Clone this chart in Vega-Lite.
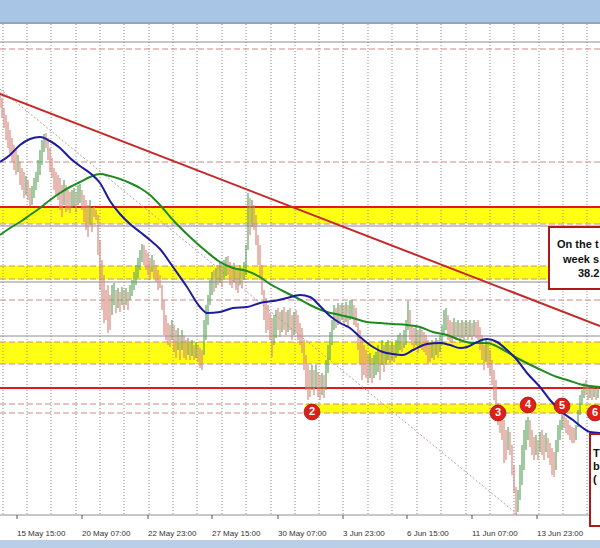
{
  "$schema": "https://vega.github.io/schema/vega-lite/v6.json",
  "width": 600,
  "height": 548,
  "autosize": "none",
  "padding": 0,
  "background": "#ffffff",
  "config": {"view": {"stroke": null}},
  "datasets": {
    "chrome": [
      {"t": 0, "t2": 600, "p": 0, "p2": 22, "part": "top"},
      {"t": 0, "t2": 600, "p": 22, "p2": 24, "part": "rim"},
      {"t": 0, "t2": 600, "p": 540, "p2": 548, "part": "foot"}
    ],
    "bands": [
      {"t": 0, "t2": 600, "p": 208, "p2": 224},
      {"t": 0, "t2": 600, "p": 266, "p2": 279},
      {"t": 0, "t2": 600, "p": 342, "p2": 364},
      {"t": 305, "t2": 600, "p": 404, "p2": 413}
    ],
    "grid": [
      {"t": 3, "p": 24, "p2": 515}, {"t": 27, "p": 24, "p2": 515}, {"t": 51, "p": 24, "p2": 515}, {"t": 76, "p": 24, "p2": 515}, {"t": 100, "p": 24, "p2": 515}, {"t": 124, "p": 24, "p2": 515}, {"t": 149, "p": 24, "p2": 515}, {"t": 173, "p": 24, "p2": 515}, {"t": 197, "p": 24, "p2": 515}, {"t": 222, "p": 24, "p2": 515}, {"t": 246, "p": 24, "p2": 515}, {"t": 271, "p": 24, "p2": 515}, {"t": 295, "p": 24, "p2": 515}, {"t": 319, "p": 24, "p2": 515}, {"t": 343, "p": 24, "p2": 515}, {"t": 368, "p": 24, "p2": 515}, {"t": 392, "p": 24, "p2": 515}, {"t": 417, "p": 24, "p2": 515}, {"t": 441, "p": 24, "p2": 515}, {"t": 466, "p": 24, "p2": 515}, {"t": 490, "p": 24, "p2": 515}, {"t": 514, "p": 24, "p2": 515}, {"t": 539, "p": 24, "p2": 515}, {"t": 563, "p": 24, "p2": 515}, {"t": 587, "p": 24, "p2": 515}
    ],
    "levels": [
      {"t": 0, "t2": 600, "p": 42, "k": "gray"}, {"t": 0, "t2": 600, "p": 49, "k": "dash"}, {"t": 0, "t2": 600, "p": 162, "k": "dash"}, {"t": 0, "t2": 600, "p": 207, "k": "red"}, {"t": 0, "t2": 600, "p": 224, "k": "dash"}, {"t": 0, "t2": 600, "p": 226, "k": "gray"}, {"t": 0, "t2": 600, "p": 266, "k": "dash"}, {"t": 0, "t2": 600, "p": 279, "k": "dash"}, {"t": 0, "t2": 600, "p": 282, "k": "gray"}, {"t": 0, "t2": 600, "p": 300, "k": "dash"}, {"t": 0, "t2": 600, "p": 336, "k": "gray"}, {"t": 0, "t2": 600, "p": 342, "k": "dash"}, {"t": 0, "t2": 600, "p": 364, "k": "dash"}, {"t": 0, "t2": 600, "p": 388, "k": "red"}, {"t": 0, "t2": 600, "p": 404, "k": "dash"}, {"t": 0, "t2": 600, "p": 413, "k": "dash"}, {"t": 0, "t2": 600, "p": 515, "k": "gray"}
    ],
    "trend": [
      {"t": 0, "p": 94, "k": "trend"}, {"t": 600, "p": 326, "k": "trend"},
      {"t": 0, "p": 89, "k": "channel"}, {"t": 517, "p": 514, "k": "channel"}
    ],
    "candles": [
      {"t":0,"p":92,"p2":108,"d":"dn"},{"t":2,"p":98,"p2":118,"d":"dn"},{"t":4,"p":108,"p2":128,"d":"dn"},{"t":6,"p":115,"p2":140,"d":"dn"},{"t":8,"p":122,"p2":148,"d":"dn"},{"t":10,"p":130,"p2":155,"d":"dn"},{"t":12,"p":138,"p2":162,"d":"dn"},{"t":14,"p":145,"p2":170,"d":"dn"},{"t":16,"p":150,"p2":175,"d":"dn"},{"t":18,"p":155,"p2":172,"d":"up"},
      {"t":20,"p":162,"p2":185,"d":"dn"},{"t":22,"p":168,"p2":190,"d":"dn"},{"t":24,"p":172,"p2":198,"d":"dn"},{"t":26,"p":176,"p2":195,"d":"up"},{"t":28,"p":180,"p2":200,"d":"dn"},{"t":30,"p":188,"p2":206,"d":"dn"},{"t":32,"p":186,"p2":205,"d":"up"},{"t":34,"p":178,"p2":198,"d":"up"},{"t":36,"p":172,"p2":190,"d":"up"},{"t":38,"p":160,"p2":182,"d":"up"},
      {"t":40,"p":150,"p2":175,"d":"up"},{"t":42,"p":140,"p2":165,"d":"up"},{"t":44,"p":134,"p2":152,"d":"up"},{"t":46,"p":133,"p2":148,"d":"dn"},{"t":48,"p":138,"p2":160,"d":"dn"},{"t":50,"p":148,"p2":172,"d":"dn"},{"t":52,"p":158,"p2":178,"d":"dn"},{"t":54,"p":168,"p2":190,"d":"dn"},{"t":56,"p":172,"p2":195,"d":"dn"},{"t":58,"p":175,"p2":200,"d":"dn"},
      {"t":60,"p":178,"p2":210,"d":"dn"},{"t":62,"p":185,"p2":217,"d":"dn"},{"t":64,"p":180,"p2":205,"d":"up"},{"t":66,"p":185,"p2":212,"d":"dn"},{"t":68,"p":190,"p2":210,"d":"dn"},{"t":70,"p":192,"p2":213,"d":"dn"},{"t":72,"p":190,"p2":208,"d":"up"},{"t":74,"p":188,"p2":206,"d":"up"},{"t":76,"p":192,"p2":212,"d":"dn"},{"t":78,"p":185,"p2":205,"d":"up"},
      {"t":80,"p":184,"p2":203,"d":"up"},{"t":82,"p":190,"p2":210,"d":"dn"},{"t":84,"p":195,"p2":222,"d":"dn"},{"t":86,"p":200,"p2":230,"d":"dn"},{"t":88,"p":205,"p2":237,"d":"dn"},{"t":90,"p":200,"p2":225,"d":"up"},{"t":92,"p":208,"p2":232,"d":"dn"},{"t":94,"p":207,"p2":217,"d":"dn"},{"t":96,"p":210,"p2":220,"d":"dn"},{"t":98,"p":215,"p2":255,"d":"dn"},
      {"t":100,"p":240,"p2":290,"d":"dn"},{"t":102,"p":260,"p2":310,"d":"dn"},{"t":104,"p":275,"p2":323,"d":"dn"},{"t":106,"p":290,"p2":320,"d":"dn"},{"t":108,"p":285,"p2":333,"d":"dn"},{"t":110,"p":295,"p2":330,"d":"dn"},{"t":112,"p":285,"p2":315,"d":"up"},{"t":114,"p":283,"p2":305,"d":"up"},{"t":116,"p":290,"p2":313,"d":"dn"},{"t":118,"p":288,"p2":308,"d":"up"},
      {"t":120,"p":292,"p2":312,"d":"dn"},{"t":122,"p":287,"p2":305,"d":"up"},{"t":124,"p":290,"p2":310,"d":"dn"},{"t":126,"p":288,"p2":305,"d":"up"},{"t":128,"p":292,"p2":310,"d":"dn"},{"t":130,"p":285,"p2":300,"d":"up"},{"t":132,"p":280,"p2":296,"d":"up"},{"t":134,"p":272,"p2":290,"d":"up"},{"t":136,"p":265,"p2":285,"d":"up"},{"t":138,"p":258,"p2":278,"d":"up"},
      {"t":140,"p":250,"p2":270,"d":"up"},{"t":142,"p":244,"p2":262,"d":"up"},{"t":144,"p":245,"p2":265,"d":"dn"},{"t":146,"p":250,"p2":270,"d":"dn"},{"t":148,"p":253,"p2":275,"d":"dn"},{"t":150,"p":258,"p2":280,"d":"dn"},{"t":152,"p":255,"p2":272,"d":"up"},{"t":154,"p":260,"p2":278,"d":"dn"},{"t":156,"p":265,"p2":282,"d":"dn"},{"t":158,"p":270,"p2":290,"d":"dn"},
      {"t":160,"p":275,"p2":288,"d":"dn"},{"t":162,"p":285,"p2":310,"d":"dn"},{"t":164,"p":300,"p2":335,"d":"dn"},{"t":166,"p":315,"p2":340,"d":"dn"},{"t":168,"p":323,"p2":345,"d":"dn"},{"t":170,"p":325,"p2":347,"d":"dn"},{"t":172,"p":320,"p2":340,"d":"up"},{"t":174,"p":325,"p2":352,"d":"dn"},{"t":176,"p":330,"p2":358,"d":"dn"},{"t":178,"p":328,"p2":350,"d":"up"},
      {"t":180,"p":335,"p2":360,"d":"dn"},{"t":182,"p":330,"p2":350,"d":"up"},{"t":184,"p":335,"p2":358,"d":"dn"},{"t":186,"p":340,"p2":360,"d":"dn"},{"t":188,"p":338,"p2":355,"d":"up"},{"t":190,"p":342,"p2":360,"d":"dn"},{"t":192,"p":340,"p2":356,"d":"up"},{"t":194,"p":345,"p2":360,"d":"dn"},{"t":196,"p":342,"p2":358,"d":"up"},{"t":198,"p":345,"p2":362,"d":"dn"},
      {"t":200,"p":348,"p2":368,"d":"dn"},{"t":202,"p":350,"p2":370,"d":"dn"},{"t":204,"p":320,"p2":355,"d":"up"},{"t":206,"p":305,"p2":340,"d":"up"},{"t":208,"p":295,"p2":325,"d":"up"},{"t":210,"p":280,"p2":305,"d":"up"},{"t":212,"p":272,"p2":295,"d":"up"},{"t":214,"p":270,"p2":292,"d":"dn"},{"t":216,"p":268,"p2":288,"d":"up"},{"t":218,"p":265,"p2":285,"d":"dn"},
      {"t":220,"p":262,"p2":283,"d":"up"},{"t":222,"p":265,"p2":287,"d":"dn"},{"t":224,"p":260,"p2":280,"d":"up"},{"t":226,"p":257,"p2":276,"d":"up"},{"t":228,"p":256,"p2":275,"d":"dn"},{"t":230,"p":262,"p2":285,"d":"dn"},{"t":232,"p":265,"p2":288,"d":"dn"},{"t":234,"p":263,"p2":282,"d":"up"},{"t":236,"p":268,"p2":290,"d":"dn"},{"t":238,"p":270,"p2":293,"d":"dn"},
      {"t":240,"p":265,"p2":285,"d":"up"},{"t":242,"p":268,"p2":288,"d":"dn"},{"t":244,"p":262,"p2":280,"d":"up"},{"t":246,"p":245,"p2":275,"d":"up"},{"t":248,"p":193,"p2":250,"d":"up"},{"t":250,"p":198,"p2":235,"d":"dn"},{"t":252,"p":200,"p2":227,"d":"up"},{"t":254,"p":205,"p2":230,"d":"dn"},{"t":256,"p":215,"p2":245,"d":"dn"},{"t":258,"p":235,"p2":265,"d":"dn"},
      {"t":260,"p":245,"p2":280,"d":"dn"},{"t":262,"p":265,"p2":295,"d":"dn"},{"t":264,"p":290,"p2":320,"d":"dn"},{"t":266,"p":298,"p2":333,"d":"dn"},{"t":268,"p":305,"p2":330,"d":"dn"},{"t":270,"p":313,"p2":340,"d":"dn"},{"t":272,"p":318,"p2":357,"d":"dn"},{"t":274,"p":315,"p2":345,"d":"up"},{"t":276,"p":310,"p2":338,"d":"up"},{"t":278,"p":308,"p2":330,"d":"dn"},
      {"t":280,"p":312,"p2":337,"d":"dn"},{"t":282,"p":310,"p2":332,"d":"up"},{"t":284,"p":307,"p2":330,"d":"dn"},{"t":286,"p":312,"p2":335,"d":"dn"},{"t":288,"p":310,"p2":332,"d":"up"},{"t":290,"p":308,"p2":330,"d":"dn"},{"t":292,"p":315,"p2":340,"d":"dn"},{"t":294,"p":312,"p2":335,"d":"up"},{"t":296,"p":310,"p2":333,"d":"dn"},{"t":298,"p":315,"p2":340,"d":"dn"},
      {"t":300,"p":323,"p2":345,"d":"dn"},{"t":302,"p":328,"p2":353,"d":"dn"},{"t":304,"p":340,"p2":370,"d":"dn"},{"t":306,"p":355,"p2":390,"d":"dn"},{"t":308,"p":365,"p2":400,"d":"dn"},{"t":310,"p":370,"p2":397,"d":"dn"},{"t":312,"p":365,"p2":390,"d":"up"},{"t":314,"p":370,"p2":395,"d":"dn"},{"t":316,"p":365,"p2":388,"d":"up"},{"t":318,"p":372,"p2":397,"d":"dn"},
      {"t":320,"p":375,"p2":400,"d":"dn"},{"t":322,"p":373,"p2":395,"d":"up"},{"t":324,"p":375,"p2":398,"d":"dn"},{"t":326,"p":360,"p2":390,"d":"up"},{"t":328,"p":345,"p2":373,"d":"up"},{"t":330,"p":332,"p2":360,"d":"up"},{"t":332,"p":320,"p2":345,"d":"up"},{"t":334,"p":305,"p2":330,"d":"up"},{"t":336,"p":308,"p2":328,"d":"dn"},{"t":338,"p":303,"p2":325,"d":"up"},
      {"t":340,"p":305,"p2":322,"d":"dn"},{"t":342,"p":303,"p2":320,"d":"up"},{"t":344,"p":305,"p2":325,"d":"dn"},{"t":346,"p":302,"p2":322,"d":"up"},{"t":348,"p":305,"p2":327,"d":"dn"},{"t":350,"p":300,"p2":320,"d":"up"},{"t":352,"p":300,"p2":318,"d":"up"},{"t":354,"p":305,"p2":325,"d":"dn"},{"t":356,"p":308,"p2":327,"d":"dn"},{"t":358,"p":323,"p2":350,"d":"dn"},
      {"t":360,"p":330,"p2":365,"d":"dn"},{"t":362,"p":340,"p2":380,"d":"dn"},{"t":364,"p":345,"p2":375,"d":"dn"},{"t":366,"p":350,"p2":378,"d":"dn"},{"t":368,"p":355,"p2":383,"d":"dn"},{"t":370,"p":353,"p2":378,"d":"up"},{"t":372,"p":358,"p2":383,"d":"dn"},{"t":374,"p":355,"p2":378,"d":"up"},{"t":376,"p":352,"p2":375,"d":"up"},{"t":378,"p":345,"p2":372,"d":"up"},
      {"t":380,"p":350,"p2":380,"d":"dn"},{"t":382,"p":340,"p2":365,"d":"up"},{"t":384,"p":345,"p2":372,"d":"dn"},{"t":386,"p":342,"p2":365,"d":"up"},{"t":388,"p":340,"p2":360,"d":"up"},{"t":390,"p":345,"p2":363,"d":"dn"},{"t":392,"p":342,"p2":360,"d":"up"},{"t":394,"p":345,"p2":362,"d":"dn"},{"t":396,"p":340,"p2":358,"d":"up"},{"t":398,"p":335,"p2":353,"d":"up"},
      {"t":400,"p":333,"p2":350,"d":"up"},{"t":402,"p":335,"p2":352,"d":"dn"},{"t":404,"p":330,"p2":348,"d":"up"},{"t":406,"p":320,"p2":345,"d":"up"},{"t":408,"p":301,"p2":330,"d":"up"},{"t":410,"p":310,"p2":340,"d":"dn"},{"t":412,"p":325,"p2":345,"d":"dn"},{"t":414,"p":328,"p2":350,"d":"dn"},{"t":416,"p":327,"p2":345,"d":"up"},{"t":418,"p":330,"p2":353,"d":"dn"},
      {"t":420,"p":328,"p2":348,"d":"up"},{"t":422,"p":330,"p2":350,"d":"dn"},{"t":424,"p":332,"p2":352,"d":"dn"},{"t":426,"p":335,"p2":355,"d":"dn"},{"t":428,"p":340,"p2":363,"d":"dn"},{"t":430,"p":342,"p2":362,"d":"dn"},{"t":432,"p":340,"p2":358,"d":"up"},{"t":434,"p":342,"p2":360,"d":"dn"},{"t":436,"p":338,"p2":355,"d":"up"},{"t":438,"p":340,"p2":358,"d":"dn"},
      {"t":440,"p":335,"p2":352,"d":"up"},{"t":442,"p":325,"p2":345,"d":"up"},{"t":444,"p":310,"p2":335,"d":"up"},{"t":446,"p":308,"p2":330,"d":"up"},{"t":448,"p":315,"p2":340,"d":"dn"},{"t":450,"p":320,"p2":342,"d":"dn"},{"t":452,"p":322,"p2":343,"d":"dn"},{"t":454,"p":318,"p2":338,"d":"up"},{"t":456,"p":322,"p2":340,"d":"dn"},{"t":458,"p":320,"p2":337,"d":"up"},
      {"t":460,"p":323,"p2":343,"d":"dn"},{"t":462,"p":320,"p2":338,"d":"up"},{"t":464,"p":322,"p2":340,"d":"dn"},{"t":466,"p":320,"p2":336,"d":"up"},{"t":468,"p":322,"p2":340,"d":"dn"},{"t":470,"p":320,"p2":337,"d":"up"},{"t":472,"p":323,"p2":340,"d":"dn"},{"t":474,"p":320,"p2":336,"d":"up"},{"t":476,"p":322,"p2":338,"d":"dn"},{"t":478,"p":320,"p2":340,"d":"dn"},
      {"t":480,"p":327,"p2":350,"d":"dn"},{"t":482,"p":335,"p2":360,"d":"dn"},{"t":484,"p":345,"p2":370,"d":"dn"},{"t":486,"p":340,"p2":362,"d":"up"},{"t":488,"p":343,"p2":368,"d":"dn"},{"t":490,"p":350,"p2":375,"d":"dn"},{"t":492,"p":360,"p2":385,"d":"dn"},{"t":494,"p":370,"p2":400,"d":"dn"},{"t":496,"p":380,"p2":407,"d":"dn"},{"t":498,"p":403,"p2":425,"d":"dn"},
      {"t":500,"p":405,"p2":433,"d":"dn"},{"t":502,"p":415,"p2":440,"d":"dn"},{"t":504,"p":420,"p2":463,"d":"dn"},{"t":506,"p":430,"p2":460,"d":"dn"},{"t":508,"p":427,"p2":450,"d":"up"},{"t":510,"p":432,"p2":455,"d":"dn"},{"t":512,"p":445,"p2":475,"d":"dn"},{"t":514,"p":465,"p2":493,"d":"dn"},{"t":516,"p":487,"p2":515,"d":"dn"},{"t":518,"p":490,"p2":512,"d":"up"},
      {"t":520,"p":465,"p2":500,"d":"up"},{"t":522,"p":445,"p2":485,"d":"up"},{"t":524,"p":430,"p2":470,"d":"up"},{"t":526,"p":420,"p2":450,"d":"up"},{"t":528,"p":417,"p2":440,"d":"up"},{"t":530,"p":420,"p2":447,"d":"dn"},{"t":532,"p":430,"p2":455,"d":"dn"},{"t":534,"p":437,"p2":460,"d":"dn"},{"t":536,"p":435,"p2":455,"d":"up"},{"t":538,"p":440,"p2":460,"d":"dn"},
      {"t":540,"p":432,"p2":452,"d":"up"},{"t":542,"p":430,"p2":455,"d":"dn"},{"t":544,"p":435,"p2":460,"d":"dn"},{"t":546,"p":433,"p2":452,"d":"up"},{"t":548,"p":438,"p2":458,"d":"dn"},{"t":550,"p":443,"p2":465,"d":"dn"},{"t":552,"p":448,"p2":475,"d":"dn"},{"t":554,"p":452,"p2":477,"d":"dn"},{"t":556,"p":440,"p2":470,"d":"up"},{"t":558,"p":425,"p2":452,"d":"up"},
      {"t":560,"p":420,"p2":440,"d":"up"},{"t":562,"p":415,"p2":430,"d":"up"},{"t":564,"p":413,"p2":428,"d":"dn"},{"t":566,"p":418,"p2":433,"d":"dn"},{"t":568,"p":420,"p2":435,"d":"dn"},{"t":570,"p":425,"p2":440,"d":"dn"},{"t":572,"p":427,"p2":443,"d":"dn"},{"t":574,"p":428,"p2":443,"d":"dn"},{"t":576,"p":425,"p2":440,"d":"up"},{"t":578,"p":410,"p2":427,"d":"up"},
      {"t":580,"p":395,"p2":415,"d":"up"},{"t":582,"p":390,"p2":405,"d":"up"},{"t":584,"p":383,"p2":398,"d":"up"},{"t":586,"p":380,"p2":395,"d":"dn"},{"t":588,"p":385,"p2":400,"d":"dn"},{"t":590,"p":387,"p2":398,"d":"up"},{"t":592,"p":388,"p2":400,"d":"dn"},{"t":594,"p":387,"p2":397,"d":"up"},{"t":596,"p":389,"p2":400,"d":"dn"},{"t":598,"p":388,"p2":398,"d":"up"}
    ],
    "ma": [
      {"t":0,"p":162,"s":"fast"},{"t":10,"p":155,"s":"fast"},{"t":20,"p":145,"s":"fast"},{"t":30,"p":139,"s":"fast"},{"t":40,"p":137,"s":"fast"},{"t":50,"p":141,"s":"fast"},{"t":60,"p":148,"s":"fast"},{"t":70,"p":158,"s":"fast"},{"t":80,"p":166,"s":"fast"},{"t":90,"p":173,"s":"fast"},{"t":100,"p":183,"s":"fast"},{"t":110,"p":201,"s":"fast"},{"t":120,"p":214,"s":"fast"},{"t":130,"p":224,"s":"fast"},{"t":140,"p":232,"s":"fast"},{"t":150,"p":240,"s":"fast"},{"t":160,"p":249,"s":"fast"},{"t":173,"p":267,"s":"fast"},{"t":187,"p":287,"s":"fast"},{"t":200,"p":307,"s":"fast"},{"t":207,"p":313,"s":"fast"},{"t":220,"p":312,"s":"fast"},{"t":233,"p":308,"s":"fast"},{"t":247,"p":307,"s":"fast"},{"t":260,"p":303,"s":"fast"},{"t":273,"p":301,"s":"fast"},{"t":287,"p":298,"s":"fast"},{"t":300,"p":295,"s":"fast"},{"t":310,"p":297,"s":"fast"},{"t":320,"p":306,"s":"fast"},{"t":330,"p":316,"s":"fast"},{"t":340,"p":323,"s":"fast"},{"t":350,"p":328,"s":"fast"},{"t":360,"p":337,"s":"fast"},{"t":370,"p":345,"s":"fast"},{"t":383,"p":352,"s":"fast"},{"t":393,"p":354,"s":"fast"},{"t":403,"p":355,"s":"fast"},{"t":413,"p":350,"s":"fast"},{"t":427,"p":344,"s":"fast"},{"t":440,"p":343,"s":"fast"},{"t":450,"p":345,"s":"fast"},{"t":460,"p":348,"s":"fast"},{"t":467,"p":347,"s":"fast"},{"t":477,"p":342,"s":"fast"},{"t":487,"p":339,"s":"fast"},{"t":497,"p":342,"s":"fast"},{"t":507,"p":350,"s":"fast"},{"t":517,"p":360,"s":"fast"},{"t":527,"p":373,"s":"fast"},{"t":540,"p":387,"s":"fast"},{"t":550,"p":400,"s":"fast"},{"t":563,"p":413,"s":"fast"},{"t":573,"p":420,"s":"fast"},{"t":583,"p":428,"s":"fast"},{"t":590,"p":432,"s":"fast"},{"t":600,"p":433,"s":"fast"},
      {"t":0,"p":235,"s":"slow"},{"t":10,"p":228,"s":"slow"},{"t":20,"p":222,"s":"slow"},{"t":30,"p":215,"s":"slow"},{"t":40,"p":208,"s":"slow"},{"t":50,"p":200,"s":"slow"},{"t":60,"p":193,"s":"slow"},{"t":70,"p":187,"s":"slow"},{"t":80,"p":182,"s":"slow"},{"t":90,"p":177,"s":"slow"},{"t":100,"p":174,"s":"slow"},{"t":110,"p":176,"s":"slow"},{"t":120,"p":179,"s":"slow"},{"t":130,"p":183,"s":"slow"},{"t":140,"p":188,"s":"slow"},{"t":150,"p":195,"s":"slow"},{"t":160,"p":205,"s":"slow"},{"t":173,"p":220,"s":"slow"},{"t":190,"p":237,"s":"slow"},{"t":207,"p":252,"s":"slow"},{"t":220,"p":262,"s":"slow"},{"t":233,"p":268,"s":"slow"},{"t":247,"p":271,"s":"slow"},{"t":260,"p":277,"s":"slow"},{"t":270,"p":284,"s":"slow"},{"t":283,"p":291,"s":"slow"},{"t":297,"p":298,"s":"slow"},{"t":310,"p":305,"s":"slow"},{"t":327,"p":312,"s":"slow"},{"t":340,"p":315,"s":"slow"},{"t":353,"p":318,"s":"slow"},{"t":367,"p":322,"s":"slow"},{"t":380,"p":323,"s":"slow"},{"t":393,"p":324,"s":"slow"},{"t":407,"p":325,"s":"slow"},{"t":420,"p":327,"s":"slow"},{"t":433,"p":332,"s":"slow"},{"t":447,"p":335,"s":"slow"},{"t":460,"p":340,"s":"slow"},{"t":473,"p":343,"s":"slow"},{"t":487,"p":343,"s":"slow"},{"t":500,"p":348,"s":"slow"},{"t":517,"p":358,"s":"slow"},{"t":537,"p":368,"s":"slow"},{"t":557,"p":377,"s":"slow"},{"t":567,"p":380,"s":"slow"},{"t":583,"p":385,"s":"slow"},{"t":600,"p":387,"s":"slow"}
    ],
    "tests": [
      {"t": 312, "p": 412, "n": "2"},
      {"t": 498, "p": 413, "n": "3"},
      {"t": 528, "p": 405, "n": "4"},
      {"t": 562, "p": 406, "n": "5"},
      {"t": 595, "p": 413, "n": "6"}
    ],
    "boxes": [
      {"t": 549, "t2": 660, "p": 227, "p2": 289},
      {"t": 590, "t2": 660, "p": 434, "p2": 526}
    ],
    "notes": [
      {"t": 557, "p": 245, "txt": "On the t"},
      {"t": 563, "p": 260, "txt": "week s"},
      {"t": 578, "p": 274, "txt": "38.2"},
      {"t": 593, "p": 454, "txt": "T"},
      {"t": 593, "p": 467, "txt": "b"},
      {"t": 593, "p": 480, "txt": "("}
    ],
    "labels": [
      {"t": 17, "p": 534, "tp": 515, "tp2": 519, "txt": "15 May 15:00"},
      {"t": 82, "p": 534, "tp": 515, "tp2": 519, "txt": "20 May 07:00"},
      {"t": 148, "p": 534, "tp": 515, "tp2": 519, "txt": "22 May 23:00"},
      {"t": 212, "p": 534, "tp": 515, "tp2": 519, "txt": "27 May 15:00"},
      {"t": 278, "p": 534, "tp": 515, "tp2": 519, "txt": "30 May 07:00"},
      {"t": 343, "p": 534, "tp": 515, "tp2": 519, "txt": "3 Jun 23:00"},
      {"t": 407, "p": 534, "tp": 515, "tp2": 519, "txt": "6 Jun 15:00"},
      {"t": 472, "p": 534, "tp": 515, "tp2": 519, "txt": "11 Jun 07:00"},
      {"t": 537, "p": 534, "tp": 515, "tp2": 519, "txt": "13 Jun 23:00"}
    ]
  },
  "layer": [
    {
      "data": {"name": "chrome"},
      "transform": [{"filter": "datum.part === 'top'"}],
      "mark": {"type": "rect", "color": "#a9c5e5"},
      "encoding": {
        "x": {"field": "t", "type": "quantitative", "scale": {"domain": [0, 600], "nice": false, "zero": false}, "axis": null},
        "x2": {"field": "t2"},
        "y": {"field": "p", "type": "quantitative", "scale": {"domain": [548, 0], "nice": false, "zero": false}, "axis": null},
        "y2": {"field": "p2"}
      }
    },
    {
      "data": {"name": "chrome"},
      "transform": [{"filter": "datum.part === 'rim'"}],
      "mark": {"type": "rect", "color": "#9aa4b2"},
      "encoding": {
        "x": {"field": "t", "type": "quantitative", "scale": {"domain": [0, 600], "nice": false, "zero": false}, "axis": null},
        "x2": {"field": "t2"},
        "y": {"field": "p", "type": "quantitative", "scale": {"domain": [548, 0], "nice": false, "zero": false}, "axis": null},
        "y2": {"field": "p2"}
      }
    },
    {
      "data": {"name": "chrome"},
      "transform": [{"filter": "datum.part === 'foot'"}],
      "mark": {"type": "rect", "color": "#b9cfe8"},
      "encoding": {
        "x": {"field": "t", "type": "quantitative", "scale": {"domain": [0, 600], "nice": false, "zero": false}, "axis": null},
        "x2": {"field": "t2"},
        "y": {"field": "p", "type": "quantitative", "scale": {"domain": [548, 0], "nice": false, "zero": false}, "axis": null},
        "y2": {"field": "p2"}
      }
    },
    {
      "data": {"name": "bands"},
      "mark": {"type": "rect", "color": "#ffff14"},
      "encoding": {
        "x": {"field": "t", "type": "quantitative", "scale": {"domain": [0, 600], "nice": false, "zero": false}, "axis": null},
        "x2": {"field": "t2"},
        "y": {"field": "p", "type": "quantitative", "scale": {"domain": [548, 0], "nice": false, "zero": false}, "axis": null},
        "y2": {"field": "p2"}
      }
    },
    {
      "data": {"name": "grid"},
      "mark": {"type": "rule", "color": "#8a8a8a", "strokeWidth": 1, "strokeDash": [1, 2]},
      "encoding": {
        "x": {"field": "t", "type": "quantitative", "scale": {"domain": [0, 600], "nice": false, "zero": false}, "axis": null},
        "y": {"field": "p", "type": "quantitative", "scale": {"domain": [548, 0], "nice": false, "zero": false}, "axis": null},
        "y2": {"field": "p2"}
      }
    },
    {
      "data": {"name": "levels"},
      "transform": [{"filter": "datum.k === 'gray'"}],
      "mark": {"type": "rule", "color": "#8e8e8e", "strokeWidth": 1},
      "encoding": {
        "x": {"field": "t", "type": "quantitative", "scale": {"domain": [0, 600], "nice": false, "zero": false}, "axis": null},
        "x2": {"field": "t2"},
        "y": {"field": "p", "type": "quantitative", "scale": {"domain": [548, 0], "nice": false, "zero": false}, "axis": null}
      }
    },
    {
      "data": {"name": "levels"},
      "transform": [{"filter": "datum.k === 'dash'"}],
      "mark": {"type": "rule", "color": "#d08a8a", "strokeWidth": 1, "strokeDash": [6, 3]},
      "encoding": {
        "x": {"field": "t", "type": "quantitative", "scale": {"domain": [0, 600], "nice": false, "zero": false}, "axis": null},
        "x2": {"field": "t2"},
        "y": {"field": "p", "type": "quantitative", "scale": {"domain": [548, 0], "nice": false, "zero": false}, "axis": null}
      }
    },
    {
      "data": {"name": "levels"},
      "transform": [{"filter": "datum.k === 'red'"}],
      "mark": {"type": "rule", "color": "#e01a1a", "strokeWidth": 2},
      "encoding": {
        "x": {"field": "t", "type": "quantitative", "scale": {"domain": [0, 600], "nice": false, "zero": false}, "axis": null},
        "x2": {"field": "t2"},
        "y": {"field": "p", "type": "quantitative", "scale": {"domain": [548, 0], "nice": false, "zero": false}, "axis": null}
      }
    },
    {
      "data": {"name": "trend"},
      "transform": [{"filter": "datum.k === 'channel'"}],
      "mark": {"type": "line", "color": "#c89a9a", "strokeWidth": 1, "strokeDash": [2, 2]},
      "encoding": {
        "x": {"field": "t", "type": "quantitative", "scale": {"domain": [0, 600], "nice": false, "zero": false}, "axis": null},
        "y": {"field": "p", "type": "quantitative", "scale": {"domain": [548, 0], "nice": false, "zero": false}, "axis": null}
      }
    },
    {
      "data": {"name": "candles"},
      "transform": [{"filter": "datum.d === 'dn'"}],
      "mark": {"type": "rule", "strokeWidth": 1.3, "color": "#d8877d", "opacity": 0.9},
      "encoding": {
        "x": {"field": "t", "type": "quantitative", "scale": {"domain": [0, 600], "nice": false, "zero": false}, "axis": null},
        "y": {"field": "p", "type": "quantitative", "scale": {"domain": [548, 0], "nice": false, "zero": false}, "axis": null},
        "y2": {"field": "p2"}
      }
    },
    {
      "data": {"name": "candles"},
      "transform": [{"filter": "datum.d === 'up'"}],
      "mark": {"type": "rule", "strokeWidth": 1.3, "color": "#5da55d", "opacity": 0.9},
      "encoding": {
        "x": {"field": "t", "type": "quantitative", "scale": {"domain": [0, 600], "nice": false, "zero": false}, "axis": null},
        "y": {"field": "p", "type": "quantitative", "scale": {"domain": [548, 0], "nice": false, "zero": false}, "axis": null},
        "y2": {"field": "p2"}
      }
    },
    {
      "data": {"name": "trend"},
      "transform": [{"filter": "datum.k === 'trend'"}],
      "mark": {"type": "line", "color": "#c62828", "strokeWidth": 2},
      "encoding": {
        "x": {"field": "t", "type": "quantitative", "scale": {"domain": [0, 600], "nice": false, "zero": false}, "axis": null},
        "y": {"field": "p", "type": "quantitative", "scale": {"domain": [548, 0], "nice": false, "zero": false}, "axis": null}
      }
    },
    {
      "data": {"name": "ma"},
      "transform": [{"filter": "datum.s === 'slow'"}],
      "mark": {"type": "line", "strokeWidth": 2, "color": "#1f8a1f", "interpolate": "monotone"},
      "encoding": {
        "x": {"field": "t", "type": "quantitative", "scale": {"domain": [0, 600], "nice": false, "zero": false}, "axis": null},
        "y": {"field": "p", "type": "quantitative", "scale": {"domain": [548, 0], "nice": false, "zero": false}, "axis": null}
      }
    },
    {
      "data": {"name": "ma"},
      "transform": [{"filter": "datum.s === 'fast'"}],
      "mark": {"type": "line", "strokeWidth": 2, "color": "#1c1ca0", "interpolate": "monotone"},
      "encoding": {
        "x": {"field": "t", "type": "quantitative", "scale": {"domain": [0, 600], "nice": false, "zero": false}, "axis": null},
        "y": {"field": "p", "type": "quantitative", "scale": {"domain": [548, 0], "nice": false, "zero": false}, "axis": null}
      }
    },
    {
      "data": {"name": "tests"},
      "mark": {"type": "point", "shape": "circle", "filled": true, "size": 250, "color": "#de2018", "opacity": 1, "stroke": "#a01010", "strokeWidth": 0.8},
      "encoding": {
        "x": {"field": "t", "type": "quantitative", "scale": {"domain": [0, 600], "nice": false, "zero": false}, "axis": null},
        "y": {"field": "p", "type": "quantitative", "scale": {"domain": [548, 0], "nice": false, "zero": false}, "axis": null}
      }
    },
    {
      "data": {"name": "tests"},
      "mark": {"type": "text", "color": "#ffffff", "fontSize": 11, "fontWeight": "bold", "font": "Liberation Sans", "baseline": "middle", "align": "center"},
      "encoding": {
        "x": {"field": "t", "type": "quantitative", "scale": {"domain": [0, 600], "nice": false, "zero": false}, "axis": null},
        "y": {"field": "p", "type": "quantitative", "scale": {"domain": [548, 0], "nice": false, "zero": false}, "axis": null},
        "text": {"field": "n"}
      }
    },
    {
      "data": {"name": "boxes"},
      "mark": {"type": "rect", "fill": "#ffffff", "stroke": "#b01818", "strokeWidth": 2, "clip": true},
      "encoding": {
        "x": {"field": "t", "type": "quantitative", "scale": {"domain": [0, 600], "nice": false, "zero": false}, "axis": null},
        "x2": {"field": "t2"},
        "y": {"field": "p", "type": "quantitative", "scale": {"domain": [548, 0], "nice": false, "zero": false}, "axis": null},
        "y2": {"field": "p2"}
      }
    },
    {
      "data": {"name": "notes"},
      "mark": {"type": "text", "color": "#111111", "fontSize": 11, "fontWeight": "bold", "font": "Liberation Sans", "baseline": "middle", "align": "left"},
      "encoding": {
        "x": {"field": "t", "type": "quantitative", "scale": {"domain": [0, 600], "nice": false, "zero": false}, "axis": null},
        "y": {"field": "p", "type": "quantitative", "scale": {"domain": [548, 0], "nice": false, "zero": false}, "axis": null},
        "text": {"field": "txt"}
      }
    },
    {
      "data": {"name": "labels"},
      "mark": {"type": "rule", "color": "#555555", "strokeWidth": 1},
      "encoding": {
        "x": {"field": "t", "type": "quantitative", "scale": {"domain": [0, 600], "nice": false, "zero": false}, "axis": null},
        "y": {"field": "tp", "type": "quantitative", "scale": {"domain": [548, 0], "nice": false, "zero": false}, "axis": null},
        "y2": {"field": "tp2"}
      }
    },
    {
      "data": {"name": "labels"},
      "mark": {"type": "text", "color": "#333333", "fontSize": 8, "font": "Liberation Sans", "baseline": "middle", "align": "left"},
      "encoding": {
        "x": {"field": "t", "type": "quantitative", "scale": {"domain": [0, 600], "nice": false, "zero": false}, "axis": null},
        "y": {"field": "p", "type": "quantitative", "scale": {"domain": [548, 0], "nice": false, "zero": false}, "axis": null},
        "text": {"field": "txt"}
      }
    }
  ]
}
